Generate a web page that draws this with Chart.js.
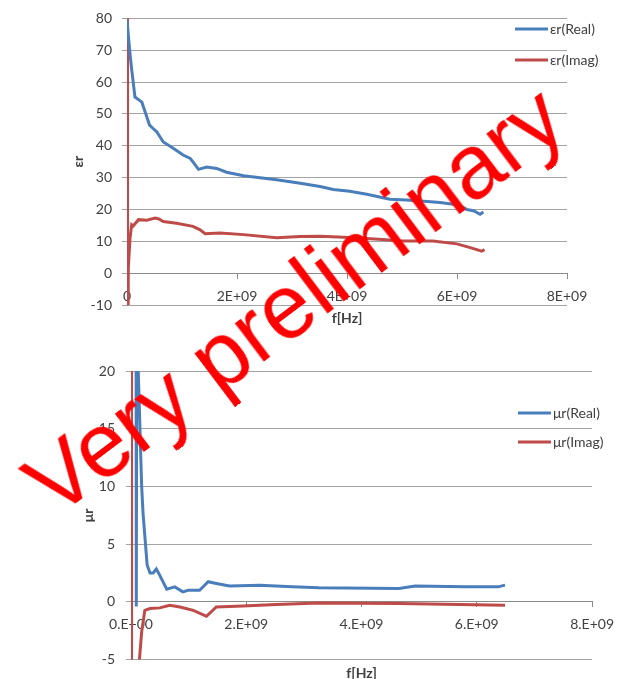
<!DOCTYPE html>
<html><head><meta charset="utf-8">
<script src="https://cdn.jsdelivr.net/npm/chart.js@4.4.1/dist/chart.umd.min.js"></script>
<style>
html,body{margin:0;padding:0;background:#fff;}
#wrap{position:relative;width:623px;height:679px;overflow:hidden;background:#fff;}
canvas{position:absolute;left:0;}
#c1{top:0;}
#c2{top:340px;}
#stamp{position:absolute;left:294px;top:300px;transform:translate(-50%,-50%) rotate(-37deg);font-family:"Liberation Sans",Arial,sans-serif;font-size:90px;line-height:1;color:#ff0000;white-space:nowrap;pointer-events:none;}
</style></head>
<body><div id="wrap">
<canvas id="c1" width="623" height="340"></canvas>
<canvas id="c2" width="623" height="339"></canvas>
<div id="stamp">Very preliminary</div>
</div>
<script>
// ---- data (frequency in Hz) ----
const erRealFreq = [0, 0.024e9, 0.06e9, 0.085e9, 0.145e9, 0.21e9, 0.27e9, 0.33e9, 0.41e9, 0.47e9, 0.54e9, 0.66e9, 0.84e9, 1.02e9, 1.15e9, 1.22e9, 1.30e9, 1.45e9, 1.63e9, 1.81e9, 2.12e9, 2.72e9, 3.15e9, 3.51e9, 3.75e9, 4.05e9, 4.36e9, 4.78e9, 5.08e9, 5.4e9, 5.69e9, 6.0e9, 6.18e9, 6.3e9, 6.42e9, 6.48e9];
const erRealVal  = [79.5, 74.7, 68, 64, 55.3, 54.5, 53.7, 50.6, 46.5, 45.5, 44.4, 41.2, 39.2, 37.1, 36, 34.5, 32.6, 33.3, 32.9, 31.7, 30.6, 29.3, 28.2, 27.2, 26.3, 25.7, 24.8, 23.2, 23, 22.6, 22.2, 21.5, 20, 19.6, 18.5, 19.2];
const erImagFreq = [0, 0.01e9, 0.024e9, 0.055e9, 0.085e9, 0.11e9, 0.21e9, 0.36e9, 0.51e9, 0.58e9, 0.66e9, 0.9e9, 1.2e9, 1.33e9, 1.42e9, 1.69e9, 2.12e9, 2.72e9, 3.15e9, 3.51e9, 4.05e9, 4.65e9, 4.96e9, 5.56e9, 6.0e9, 6.24e9, 6.45e9, 6.5e9];
const erImagVal  = [150, -60, 1.7, 11, 15.2, 14.8, 16.8, 16.6, 17.3, 17, 16.2, 15.7, 14.7, 13.6, 12.4, 12.6, 12.1, 11.1, 11.5, 11.6, 11.2, 10.6, 10.1, 10.1, 9.2, 8, 6.9, 7.4];

const murRealFreq = [0.08e9, 0.092e9, 0.105e9, 0.126e9, 0.185e9, 0.21e9, 0.28e9, 0.33e9, 0.385e9, 0.44e9, 0.50e9, 0.62e9, 0.76e9, 0.90e9, 0.99e9, 1.19e9, 1.34e9, 1.48e9, 1.71e9, 2.23e9, 2.80e9, 3.26e9, 4.65e9, 4.93e9, 5.80e9, 6.37e9, 6.49e9];
const murRealVal  = [80, -0.4, 40, 20, 10, 7.6, 3.2, 2.5, 2.5, 2.85, 2.3, 1.1, 1.3, 0.87, 1.0, 1.0, 1.75, 1.6, 1.37, 1.45, 1.3, 1.22, 1.16, 1.37, 1.3, 1.3, 1.45];
const murImagFreq = [0, 0.01e9, 0.12e9, 0.143e9, 0.185e9, 0.24e9, 0.33e9, 0.50e9, 0.67e9, 0.85e9, 1.08e9, 1.31e9, 1.48e9, 1.94e9, 2.52e9, 3.26e9, 4.65e9, 6.49e9];
const murImagVal  = [40, -40, -40, -5.2, -2.6, -0.73, -0.58, -0.52, -0.29, -0.44, -0.73, -1.25, -0.44, -0.35, -0.23, -0.09, -0.15, -0.29];

const topXLabels = ['0', '2E+09', '4E+09', '6E+09', '8E+09'];
const botXLabels = ['0.E+00', '2.E+09', '4.E+09', '6.E+09', '8.E+09'];
const topLegend = ['\u03b5r(Real)', '\u03b5r(Imag)'];
const botLegend = ['\u03bcr(Real)', '\u03bcr(Imag)'];

// ---- styling ----
const BLUE = '#4a7ebb', RED = '#be4b48', TXT = '#404040', GRID = '#a3a3a3', AXIS = '#8a8a8a';
Chart.defaults.font.family = 'Lato, "Open Sans", sans-serif';
Chart.defaults.font.size = 14;
Chart.defaults.color = TXT;

function pts(xs, ys) { return xs.map((x, i) => ({x: x, y: ys[i]})); }

const overlayPlugin = {
  id: 'fixedLegend',
  afterDatasetsDraw(chart, args, opts) {
    const ctx = chart.ctx;
    ctx.save();
    chart.data.datasets.forEach((ds, i) => {
      const y = opts.ys[i];
      ctx.strokeStyle = ds.borderColor; ctx.lineWidth = 3; ctx.lineCap = 'butt';
      ctx.beginPath(); ctx.moveTo(opts.x, y); ctx.lineTo(opts.x + opts.len, y); ctx.stroke();
      ctx.fillStyle = TXT; ctx.font = '14px Lato, "Open Sans", sans-serif';
      ctx.textBaseline = 'middle'; ctx.textAlign = 'left';
      ctx.fillText(ds.label, opts.x + opts.len + 2, y);
    });
    ctx.font = 'bold 14px Lato, "Open Sans", sans-serif';
    ctx.textAlign = 'center'; ctx.textBaseline = 'middle'; ctx.fillStyle = TXT;
    ctx.fillText(opts.xTitle, (chart.chartArea.left + chart.chartArea.right) / 2, opts.xTitleY);
    ctx.restore();
  }
};

function makeChart(id, cfg) {
  return new Chart(document.getElementById(id), {
    type: 'scatter',
    data: {
      datasets: [
        {label: cfg.legend[0], data: cfg.real, showLine: true, borderColor: BLUE, backgroundColor: BLUE, borderWidth: 3, pointRadius: 0, tension: 0},
        {label: cfg.legend[1], data: cfg.imag, showLine: true, borderColor: RED, backgroundColor: RED, borderWidth: 3, pointRadius: 0, tension: 0}
      ]
    },
    options: {
      responsive: false, animation: false, devicePixelRatio: 1,
      layout: {padding: cfg.padding},
      plugins: {legend: {display: false}, tooltip: {enabled: false},
        fixedLegend: cfg.legendOpts},
      scales: {
        x: {
          type: 'linear', position: {y: 0}, min: 0, max: 8e9,
          grid: {drawOnChartArea: false, drawTicks: true, tickLength: 5, color: AXIS},
          border: {display: true, color: AXIS, width: 1},
          ticks: {stepSize: 2e9, padding: cfg.xPad, maxRotation: 0, autoSkip: false,
                  callback: (v, i) => cfg.xLabels[i]}
        },
        y: {
          type: 'linear', position: 'left', min: cfg.yMin, max: cfg.yMax,
          grid: {color: GRID, lineWidth: 1, drawTicks: true, tickLength: 5},
          border: {display: true, color: AXIS},
          ticks: {stepSize: cfg.yStep, padding: cfg.yPad},
          title: {display: true, text: cfg.yTitle, font: {weight: 'bold', size: 14}, padding: {top: 10, bottom: 0}},
          afterFit: (s) => { s.width = cfg.yWidth; }
        }
      }
    },
    plugins: [overlayPlugin]
  });
}

makeChart('c1', {
  real: pts(erRealFreq, erRealVal), imag: pts(erImagFreq, erImagVal), legend: topLegend,
  padding: {left: 60, top: 16, right: 56, bottom: 35}, yWidth: 67,
  yMin: -10, yMax: 80, yStep: 10, yTitle: '\u03b5r', xLabels: topXLabels, xPad: 10, yPad: 10,
  legendOpts: {x: 515, len: 33, ys: [29, 60], xTitle: 'f[Hz]', xTitleY: 318}
});
makeChart('c2', {
  real: pts(murRealFreq, murRealVal), imag: pts(murImagFreq, murImagVal), legend: botLegend,
  padding: {left: 70, top: 31, right: 29, bottom: 19}, yWidth: 61,
  yMin: -5, yMax: 20, yStep: 5, yTitle: '\u03bcr', xLabels: botXLabels, xPad: 9, yPad: 11,
  legendOpts: {x: 518, len: 33, ys: [73, 102], xTitle: 'f[Hz]', xTitleY: 333}
});
</script>
</body></html>
